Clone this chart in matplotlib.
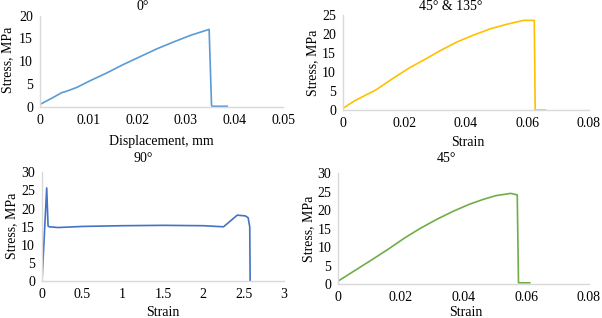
import matplotlib
matplotlib.use("Agg")
from matplotlib import pyplot as plt

plt.rcParams['font.family'] = ['Liberation Serif', 'DejaVu Serif']
plt.rcParams['font.size'] = 10

# 0 deg: stress vs displacement
disp_0 = [0, 0.0025, 0.0045, 0.0052, 0.0075, 0.0105, 0.0137, 0.0170, 0.0206, 0.0240,
          0.0274, 0.0310, 0.0348, 0.0353, 0.0356, 0.0385]
stress_0 = [0.5, 1.9, 3.1, 3.3, 4.2, 5.8, 7.4, 9.2, 11.0, 12.7,
            14.2, 15.7, 17.0, 0.2, 0.1, 0.1]

# 45 & 135 deg
strain_45_135 = [0, 0.0037, 0.0107, 0.016, 0.0214, 0.027, 0.032, 0.037, 0.0427, 0.048,
                 0.0534, 0.0587, 0.0622, 0.0625, 0.0658]
stress_45_135 = [0.45, 2.4, 5.3, 8.2, 11.0, 13.5, 15.8, 17.9, 19.8, 21.4,
                 22.6, 23.6, 23.6, 0.0, 0.0]

# 90 deg
strain_90 = [0, 0.058, 0.075, 0.09, 0.2, 0.5, 1.0, 1.5, 2.0, 2.25, 2.42, 2.52, 2.555, 2.575, 2.58]
stress_90 = [0, 25.7, 15.2, 15.0, 14.8, 15.1, 15.3, 15.4, 15.3, 15.0, 18.2, 18.0, 17.5, 15.0, 0.0]

# 45 deg
strain_45 = [0, 0.0105, 0.016, 0.021, 0.026, 0.0314, 0.0367, 0.0419, 0.0463, 0.0503,
             0.055, 0.0571, 0.0575, 0.0611]
stress_45 = [0.9, 6.5, 9.5, 12.4, 15.0, 17.5, 19.7, 21.6, 22.9, 23.9,
             24.5, 24.1, 0.4, 0.4]

panels = [
    dict(rect=[0.0664, 0.6645, 0.4037, 0.286], x=disp_0, y=stress_0, color='#5B9BD5',
         xlim=(0, 0.05), xt=[0, 0.01, 0.02, 0.03, 0.04, 0.05], xtl=['0', '0.01', '0.02', '0.03', '0.04', '0.05'],
         ylim=(0, 20), yt=[0, 5, 10, 15, 20],
         title='0°', tpos=(143, 6), xlabel='Displacement, mm', xlpos=(161, 141), ylpos=(8, 60)),
    dict(rect=[0.5698, 0.654, 0.4086, 0.2987], x=strain_45_135, y=stress_45_135, color='#FFC000',
         xlim=(0, 0.08), xt=[0, 0.02, 0.04, 0.06, 0.08], xtl=['0', '0.02', '0.04', '0.06', '0.08'],
         ylim=(0, 25), yt=[0, 5, 10, 15, 20, 25],
         title='45° & 135°', tpos=(451, 6), xlabel='Strain', xlpos=(468, 142), ylpos=(313, 63)),
    dict(rect=[0.0698, 0.1154, 0.402, 0.3428], x=strain_90, y=stress_90, color='#4472C4',
         xlim=(0, 3), xt=[0, 0.5, 1, 1.5, 2, 2.5, 3], xtl=['0', '0.5', '1', '1.5', '2', '2.5', '3'],
         ylim=(0, 30), yt=[0, 5, 10, 15, 20, 25, 30],
         title='90°', tpos=(143, 158), xlabel='Strain', xlpos=(163, 313), ylpos=(12, 226)),
    dict(rect=[0.562, 0.106, 0.4164, 0.35], x=strain_45, y=stress_45, color='#70AD47',
         xlim=(0, 0.08), xt=[0, 0.02, 0.04, 0.06, 0.08], xtl=['0', '0.02', '0.04', '0.06', '0.08'],
         ylim=(0, 30), yt=[0, 5, 10, 15, 20, 25, 30],
         title='45°', tpos=(446, 158), xlabel='Strain', xlpos=(466, 313), ylpos=(309, 229)),
]

W, H = 602, 318
fig = plt.figure(figsize=(6.02, 3.18), dpi=100)

for p in panels:
    ax = fig.add_axes(p['rect'])
    ax.plot(p['x'], p['y'], color=p['color'], lw=1.2)
    ax.set_xlim(*p['xlim'])
    ax.set_ylim(*p['ylim'])
    ax.set_xticks(p['xt'])
    ax.set_xticklabels(p['xtl'])
    ax.set_yticks(p['yt'])
    for s in ['top', 'right']:
        ax.spines[s].set_visible(False)
    for s in ['left', 'bottom']:
        ax.spines[s].set_color('#D9D9D9')
        ax.spines[s].set_linewidth(1.0)
    ax.tick_params(length=0, pad=5, labelsize=10, labelcolor='black')
    # titles and axis labels placed where the reference has them
    fig.text(p['tpos'][0] / W, 1 - p['tpos'][1] / H, p['title'], ha='center', va='center', fontsize=10)
    fig.text(p['xlpos'][0] / W, 1 - p['xlpos'][1] / H, p['xlabel'], ha='center', va='center', fontsize=10)
    fig.text(p['ylpos'][0] / W, 1 - p['ylpos'][1] / H, 'Stress, MPa', ha='center', va='center',
             rotation=90, fontsize=10)

fig.savefig('out.png', dpi=100)
